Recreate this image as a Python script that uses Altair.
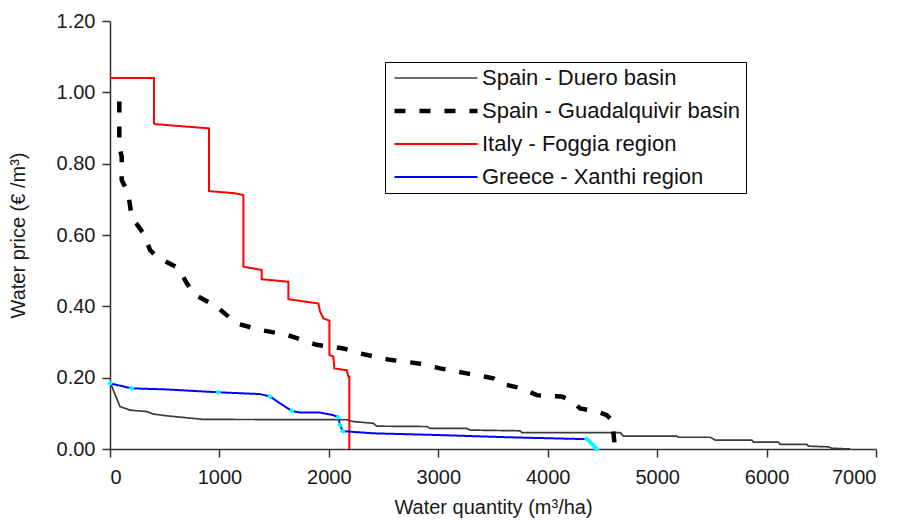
import altair as alt
import pandas as pd

series_names = ["Spain - Duero basin", "Spain - Guadalquivir basin",
                "Italy - Foggia region", "Greece - Xanthi region"]
series_colors = ["#3a3a3a", "#000000", "#ff0000", "#0000ff"]
series_dash = [[1, 0], [11, 14], [1, 0], [1, 0]]
series_width = [1.7, 4.5, 2.0, 2.0]

duero_x = [0, 30, 61, 91, 183, 335, 396, 518, 853, 2163, 2224, 2407, 2437, 2894, 2925, 3260,
           3291, 3748, 3763, 4662, 4692, 5180, 5195, 5484, 5530, 5865, 5880, 6109, 6124,
           6368, 6383, 6566, 6597, 6764]
duero_y = [0.19, 0.165, 0.142, 0.119, 0.109, 0.105, 0.098, 0.093, 0.083, 0.082, 0.077, 0.072,
           0.064, 0.063, 0.058, 0.058, 0.053, 0.051, 0.046, 0.046, 0.036, 0.036, 0.033, 0.033,
           0.025, 0.025, 0.019, 0.019, 0.013, 0.013, 0.008, 0.006, 0.002, 0.0]

guad_x = [85, 85, 107, 107, 167, 198, 304, 366, 427, 624, 701, 777, 975, 1157, 1371, 1615,
          1889, 2133, 2285, 2559, 2818, 3016, 3260, 3504, 3565, 3763, 3900, 4129, 4205, 4296,
          4448, 4540, 4586, 4601, 4616]
guad_y = [0.974, 0.848, 0.820, 0.754, 0.717, 0.651, 0.605, 0.558, 0.539, 0.507, 0.465, 0.432,
          0.399, 0.352, 0.334, 0.320, 0.292, 0.282, 0.268, 0.250, 0.240, 0.226, 0.212, 0.198,
          0.184, 0.170, 0.151, 0.147, 0.137, 0.114, 0.105, 0.095, 0.081, 0.044, 0.0]

italy_x = [0, 402, 402, 905, 905, 1143, 1219, 1219, 1386, 1386, 1630, 1630, 1904, 1920, 1950,
           2005, 2005, 2041, 2050, 2163, 2178, 2187, 2187]
italy_y = [1.04, 1.04, 0.911, 0.899, 0.723, 0.717, 0.712, 0.511, 0.502, 0.476, 0.469, 0.420,
           0.408, 0.385, 0.366, 0.360, 0.264, 0.259, 0.226, 0.221, 0.203, 0.203, 0.0]

greece_x = [0, 198, 518, 990, 1371, 1463, 1554, 1661, 1737, 1920, 2041, 2087, 2102, 2127, 2407,
            3016, 3626, 4296, 4357, 4380, 4400, 4425, 4448]
greece_y = [0.184, 0.170, 0.167, 0.159, 0.154, 0.147, 0.128, 0.107, 0.102, 0.102, 0.095, 0.089,
            0.067, 0.050, 0.044, 0.039, 0.033, 0.028, 0.028, 0.022, 0.015, 0.008, 0.0]
greece_marker = [1, 1, 0, 1, 0, 1, 0, 1, 0, 0, 0, 1, 1, 1, 0, 0, 0, 0, 1, 1, 1, 1, 1]

x_ticks = [0, 1000, 2000, 3000, 4000, 5000, 6000, 7000]
y_ticks = [0.0, 0.2, 0.4, 0.6, 0.8, 1.0, 1.2]

FONT = "Liberation Sans"

rows = []
for name, xs, ys, w in zip(series_names, [duero_x, guad_x, italy_x, greece_x],
                           [duero_y, guad_y, italy_y, greece_y], series_width):
    for i, (xv, yv) in enumerate(zip(xs, ys)):
        rows.append({"series": name, "x": xv, "y": yv, "i": i, "w": w})
df = pd.DataFrame(rows)

markers = pd.DataFrame({"x": greece_x, "y": greece_y, "m": greece_marker})
markers = markers[markers["m"] == 1]

xs = alt.Scale(domain=[0, 7000], nice=False)
ys = alt.Scale(domain=[0, 1.2], nice=False)

x_axis = alt.Axis(values=x_ticks, format="d", title="Water quantity (m³/ha)",
                  labelPadding=10, titlePadding=10)
y_axis = alt.Axis(values=y_ticks, format=".2f", title="Water price (€ /m³)",
                  labelPadding=7, titlePadding=28)

width_expr = " : ".join(
    [f"datum.value === '{n}' ? {w}" for n, w in zip(series_names, series_width)]) + " : 2"

legend = alt.Legend(
    title=None, orient="none", legendX=275, legendY=41,
    symbolType="stroke", symbolSize=6900, symbolOffset=35,
    symbolStrokeWidth=alt.ExprRef(expr=width_expr),
    labelFont=FONT, labelFontSize=22, labelColor="#111111", labelOffset=35,
    labelLimit=500, fillColor="#ffffff",
)

lines = alt.Chart(df).mark_line(strokeCap="butt", strokeJoin="miter").encode(
    x=alt.X("x:Q", scale=xs, axis=x_axis),
    y=alt.Y("y:Q", scale=ys, axis=y_axis),
    color=alt.Color("series:N", scale=alt.Scale(domain=series_names, range=series_colors),
                    legend=legend),
    strokeDash=alt.StrokeDash("series:N",
                              scale=alt.Scale(domain=series_names, range=series_dash),
                              legend=legend),
    strokeWidth=alt.StrokeWidth("w:Q", scale=None, legend=None),
    detail="series:N",
    order="i:Q",
)

pts = alt.Chart(markers).mark_point(filled=True, shape="diamond", size=32, opacity=1).encode(
    x=alt.X("x:Q", scale=xs),
    y=alt.Y("y:Q", scale=ys),
    color=alt.value("#00ffff"),
)

chart = alt.layer(lines, pts).properties(
    width=766, height=428,
    padding={"left": 102, "top": 13, "right": 20, "bottom": 70},
    autosize=alt.AutoSizeParams(type="none"),
).configure_view(stroke=None).configure_axis(
    grid=False, domainColor="#333333", domainWidth=1.5, tickColor="#333333", tickWidth=1.5,
    tickSize=8, labelFont=FONT, labelFontSize=20, labelColor="#1a1a1a",
    titleFont=FONT, titleFontSize=20, titleFontWeight="normal", titleColor="#1a1a1a",
).configure_legend(
    padding=5, rowPadding=11, strokeColor="#000000",
)

chart.save("out.html", embed_options={"renderer": "svg", "actions": False})
